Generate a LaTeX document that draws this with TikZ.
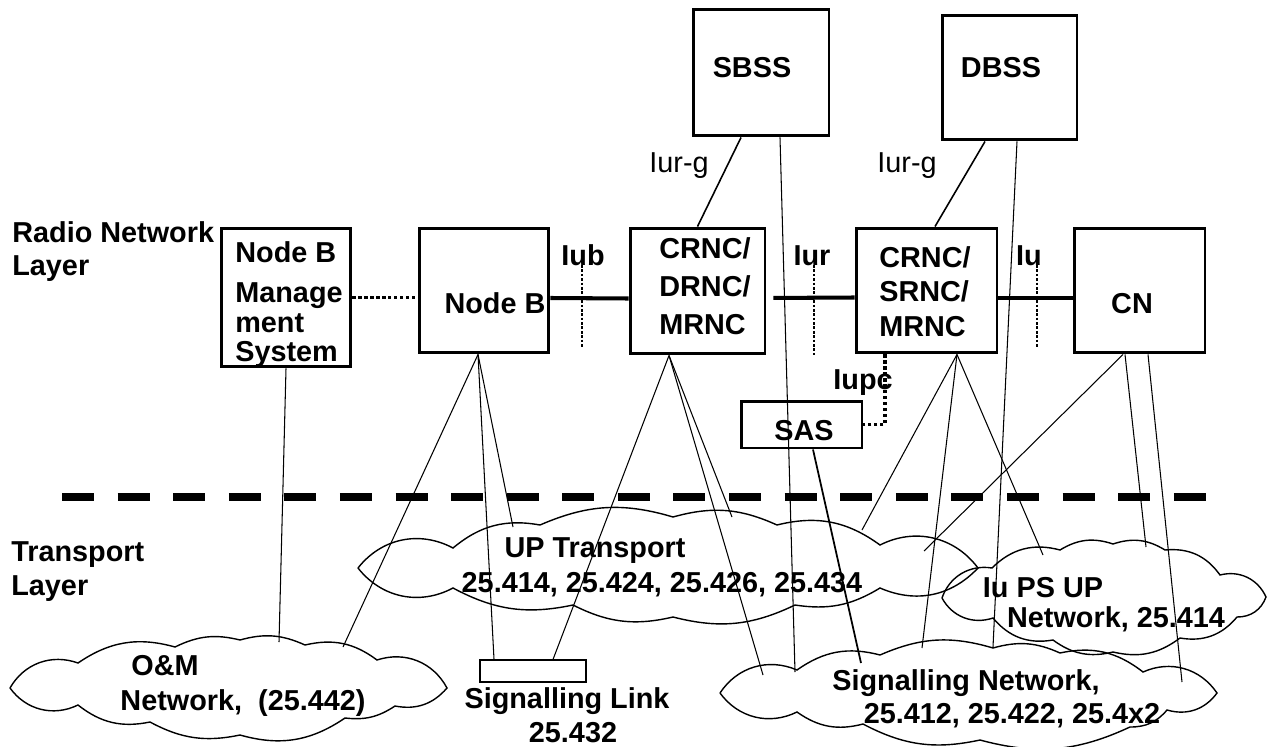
\documentclass[tikz,border=0pt]{standalone}
\usepackage{fontspec}
\setmainfont{Liberation Sans}
\usetikzlibrary{calc}
\tikzset{
	box/.style={draw, line width=1.7pt, inner sep=0pt},
	lbl/.style={inner sep=0pt, font=\fontsize{16.4}{19}\selectfont\bfseries},
	plainlbl/.style={inner sep=0pt, font=\fontsize{16.4}{19}\selectfont},
	iface/.style={line width=2.3pt},
	wire/.style={line width=0.6pt},
	cloudline/.style={line width=0.8pt},
	bigdots/.style={line width=2.1pt, dash pattern=on 1.8pt off 1.6pt},
	tickdots/.style={line width=1.1pt, dash pattern=on 1.5pt off 1pt}
}

\begin{document}
\begin{tikzpicture}[x=0.02cm, y=-0.02cm]
			%%%%% START %%%%%
			\useasboundingbox (0,0) rectangle (1268,747);
			
			% layer titles
			\node[lbl, anchor=north west, align=left, font=\fontsize{16.4}{18.7}\selectfont\bfseries] (rnl) at (12,221) {Radio Network\\Layer};
			\node[lbl, anchor=north west, align=left, font=\fontsize{16.4}{19.8}\selectfont\bfseries] (tl) at (11,541) {Transport\\Layer};
			
			% boxes
			\node[box, minimum width=2.6cm, minimum height=2.78cm] (mgmt) at (286,297.5) {};
			\node[box, minimum width=2.6cm, minimum height=2.5cm] (nodeb) at (484,290.5) {};
			\node[box, minimum width=2.7cm, minimum height=2.52cm] (drnc) at (697.5,291) {};
			\node[box, minimum width=2.82cm, minimum height=2.5cm] (srnc) at (926.5,290.5) {};
			\node[box, minimum width=2.62cm, minimum height=2.5cm] (cn) at (1139.5,290.5) {};
			\node[box, minimum width=2.72cm, minimum height=2.54cm] (sbss) at (761,72.5) {};
			\node[box, minimum width=2.7cm, minimum height=2.5cm] (dbss) at (1009.5,77.5) {};
			\node[box, minimum width=2.42cm, minimum height=0.94cm] (sas) at (801.5,424.5) {};
			\node[draw, wire, inner sep=0pt, minimum width=2.12cm, minimum height=0.44cm] (link) at (533,671) {};
			
			% box texts
			\node[lbl, anchor=north west, align=left, font=\fontsize{16.4}{16.9}\selectfont\bfseries] (mgmttxt) at (235,241) {Node B\\[6pt]Manage\\ment\\System};
			\node[lbl, anchor=base] (nodebtxt) at (495,313) {Node B};
			\node[lbl, anchor=north west, align=left, font=\fontsize{16.4}{21.8}\selectfont\bfseries] (drnctxt) at (659,237) {CRNC/\\DRNC/\\MRNC};
			\node[lbl, anchor=north west, align=left, font=\fontsize{16.4}{19.6}\selectfont\bfseries] (srnctxt) at (879,246) {CRNC/\\SRNC/\\MRNC};
			\node[lbl, anchor=base] (cntxt) at (1132,313) {CN};
			\node[lbl, anchor=base] (sbsstxt) at (752,77) {SBSS};
			\node[lbl, anchor=base] (dbsstxt) at (1001,77) {DBSS};
			\node[lbl, anchor=base] (sastxt) at (804,440) {SAS};
			
			% interfaces
			\draw[iface] ([yshift=-0.15cm]nodeb.east) -- ([yshift=-0.15cm]drnc.west);
			\draw[iface, shorten <=0.14cm] ([yshift=-0.14cm]drnc.east) -- ([yshift=-0.14cm]srnc.west);
			\draw[iface] ([yshift=-0.15cm]srnc.east) -- ([yshift=-0.15cm]cn.west);
			\draw[bigdots] (mgmt.east) -- (mgmt.east -| nodeb.west);
			\draw[bigdots] ([xshift=-0.83cm]srnc.south) |- (sas.east);
			\draw[line width=0.9pt] ([xshift=-0.4cm]sbss.south) -- (drnc.north);
			\draw[line width=0.9pt] ([xshift=-0.49cm]dbss.south) -- ([xshift=0.17cm]srnc.north);
			
			\draw[tickdots] (582,265) -- (582,348);
			\draw[tickdots] (814,265) -- (814,355);
			\draw[tickdots] (1037,265) -- (1037,348);
			
			\node[lbl, anchor=base] (iub) at (583,265) {Iub};
			\node[lbl, anchor=base] (iur) at (812,265) {Iur};
			\node[lbl, anchor=base] (iu) at (1029,265) {Iu};
			\node[lbl, anchor=base] (iupc) at (863,389) {Iupc};
			\node[plainlbl, anchor=base] (iurg1) at (679,172) {Iur-g};
			\node[plainlbl, anchor=base] (iurg2) at (907,172) {Iur-g};
			
			% layer border
			\draw[line width=4pt, dash pattern=on 0.64cm off 0.472cm] (62,497) -- (1206,497);
			
			% clouds
			\draw[cloudline] (10,688) to[bend left=40] (78,663) to[bend left=25] (175,647) to[bend left=20] (240,640)
				to[bend left=20] (305,645) to[bend left=25] (377,660) to[bend left=40] (447,688) to[bend left=30] (395,706)
				to[bend left=20] (345,718) to[bend left=25] (240,735) to[bend left=20] (150,722) to[bend left=25] (78,705) to[bend left=40] (10,688);
			\draw[cloudline] (358,568) to[bend left=40] (453,548) to[bend left=25] (540,525) to[bend left=20] (673,517)
				to[bend left=20] (777,525) to[bend left=25] (880,545) to[bend left=40] (978,568) to[bend left=35] (880,588)
				to[bend left=20] (795,605) to[bend left=20] (673,617) to[bend left=20] (573,605) to[bend left=20] (453,588) to[bend left=40] (358,568);
			\draw[cloudline] (942,598) to[bend left=40] (992,568) to[bend left=30] (1060,550) to[bend left=25] (1113,544)
				to[bend left=25] (1165,550) to[bend left=30] (1220,575) to[bend left=40] (1266,597) to[bend left=35] (1237,617)
				to[bend left=30] (1180,638) to[bend left=25] (1113,652) to[bend left=25] (1053,640) to[bend left=30] (993,618) to[bend left=40] (942,598);
			\draw[cloudline] (720,693) to[bend left=40] (797,670) to[bend left=25] (880,655) to[bend left=20] (993,648)
				to[bend left=20] (1060,653) to[bend left=25] (1143,672) to[bend left=40] (1217,693) to[bend left=35] (1167,710)
				to[bend left=25] (1130,727) to[bend left=20] (980,740) to[bend left=20] (863,724) to[bend left=25] (797,712) to[bend left=40] (720,693);
			
			% cloud texts
			\node[lbl, anchor=base] (omtxt) at (165,675) {O\&M};
			\node[lbl, anchor=base] (omnum) at (243,710) {Network,\ \ (25.442)};
			\node[lbl, anchor=base] (uptxt) at (595,557) {UP Transport};
			\node[lbl, anchor=base] (upnum) at (662,592) {25.414, 25.424, 25.426, 25.434};
			\node[lbl, anchor=base] (iupstxt) at (1043,597) {Iu PS UP};
			\node[lbl, anchor=base] (iupsnum) at (1116,627) {Network, 25.414};
			\node[lbl, anchor=base] (sigtxt) at (966,690) {Signalling Network,};
			\node[lbl, anchor=base] (signum) at (1012,723) {25.412, 25.422, 25.4x2};
			\node[lbl, anchor=base] (linktxt) at (567,708) {Signalling Link};
			\node[lbl, anchor=base] (linknum) at (573,742) {25.432};
			
			% cloud ends
			\coordinate (omtop1) at (279,642);
			\coordinate (omtop2) at (343,647);
			\coordinate (uptop1) at (513,527);
			\coordinate (uptop2) at (732,517);
			\coordinate (upright1) at (862,530);
			\coordinate (upright2) at (924,551);
			\coordinate (sigtop1) at (763,675);
			\coordinate (sigtop2) at (795,672);
			\coordinate (sigtop3) at (861,663);
			\coordinate (sigtop4) at (922,648);
			\coordinate (sigtop5) at (993,647);
			\coordinate (sigright) at (1182,682);
			\coordinate (iutop1) at (1043,555);
			\coordinate (iutop2) at (1146,547);
			
			% links to the transport layer
			\draw[wire] (mgmt.south) -- (omtop1);
			\draw[wire] ([xshift=-0.12cm]nodeb.south) -- (omtop2);
			\draw[wire] ([xshift=-0.12cm]nodeb.south) -- ([xshift=-0.78cm]link.north);
			\draw[wire] ([xshift=-0.12cm]nodeb.south) -- (uptop1);
			\draw[wire] ([xshift=-0.57cm]drnc.south) -- ([xshift=0.4cm]link.north);
			\draw[wire] ([xshift=-0.57cm]drnc.south) -- (uptop2);
			\draw[wire] ([xshift=-0.57cm]drnc.south) -- (sigtop1);
			\draw[wire] ([xshift=0.38cm]sbss.south) -- (sigtop2);
			\draw[line width=1pt] ([xshift=0.23cm]sas.south) -- (sigtop3);
			\draw[wire] ([xshift=0.61cm]srnc.south) -- (upright1);
			\draw[wire] ([xshift=0.61cm]srnc.south) -- (sigtop4);
			\draw[wire] ([xshift=0.61cm]srnc.south) -- (iutop1);
			\draw[wire] ([xshift=0.15cm]dbss.south) -- (sigtop5);
			\draw[wire] ([xshift=-0.33cm]cn.south) -- (upright2);
			\draw[wire] ([xshift=-0.29cm]cn.south) -- (iutop2);
			\draw[wire] ([xshift=0.17cm]cn.south) -- (sigright);
			
			%%%%% END %%%%%
\end{tikzpicture}
\end{document}
